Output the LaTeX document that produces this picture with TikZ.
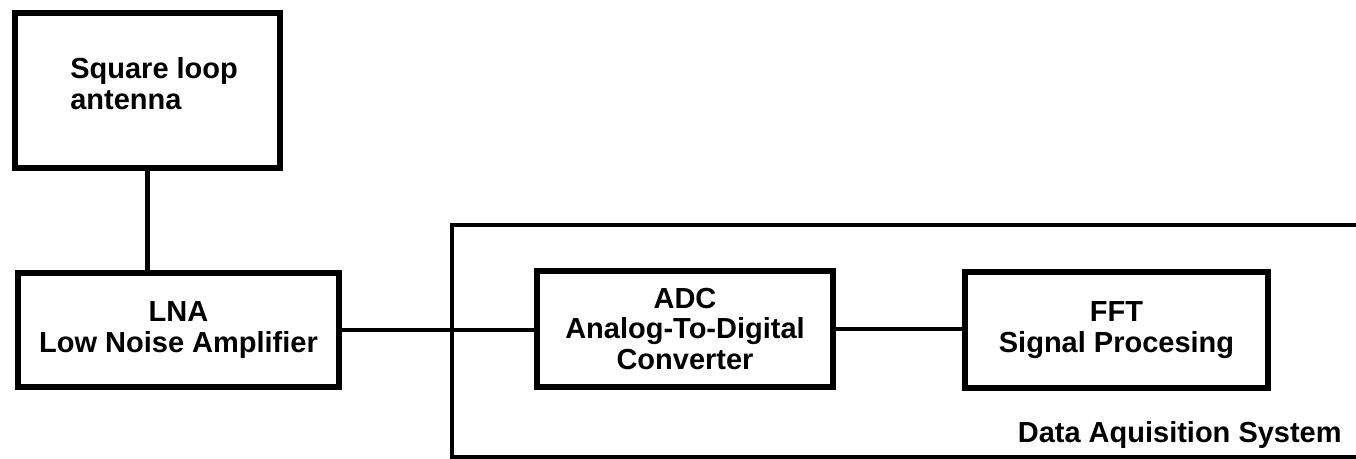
\documentclass[tikz,border=0pt]{standalone}
\usepackage{fontspec}
\setmainfont{Liberation Sans}
\begin{document}
\begin{tikzpicture}[x=0.02cm, y=-0.02cm]
        \tikzstyle{blk}=[rectangle, draw, line width=3.7pt, inner sep=0pt, outer sep=0pt, align=center]
        \tikzstyle{txt}=[inner sep=0pt, align=left]
        \tikzstyle{wire}=[line width=2.3pt]
        \tikzset{every node/.style={font=\fontsize{16.5}{17.5}\selectfont\bfseries}}

        \useasboundingbox (0,0) rectangle (1356,459);

        \node[blk, minimum width=5.30cm, minimum height=3.10cm] (ant) at (147.5,90.5) {};
        \node[txt, anchor=west] (anttxt) at (70,84) {Square loop\\antenna};
        \node[blk, minimum width=6.42cm, minimum height=2.28cm] (lna) at (178.5,330) {LNA\\Low Noise Amplifier};
        \node[blk, minimum width=5.92cm, minimum height=2.32cm] (adc) at (685,329) {ADC\\Analog-To-Digital\\Converter};
        \node[blk, minimum width=6.06cm, minimum height=2.32cm] (fft) at (1116.5,330) {FFT\\Signal Procesing};

        \coordinate (dasNE) at (1356,225);
        \coordinate (dasNW) at (452,225);
        \coordinate (dasSW) at (452,457);
        \coordinate (dasSE) at (1356,457);
        \draw[line width=2.6pt] (dasNE) -- (dasNW) -- (dasSW) -- (dasSE);
        \node[txt, anchor=base east] (das) at (1342,442) {Data Aquisition System};

        \draw[wire] (ant.south) -- (ant.south |- lna.north);
        \draw[wire] (lna.east) -- (lna.east -| adc.west);
        \draw[wire] (adc.east) -- (adc.east -| fft.west);
    \end{tikzpicture}
\end{document}
